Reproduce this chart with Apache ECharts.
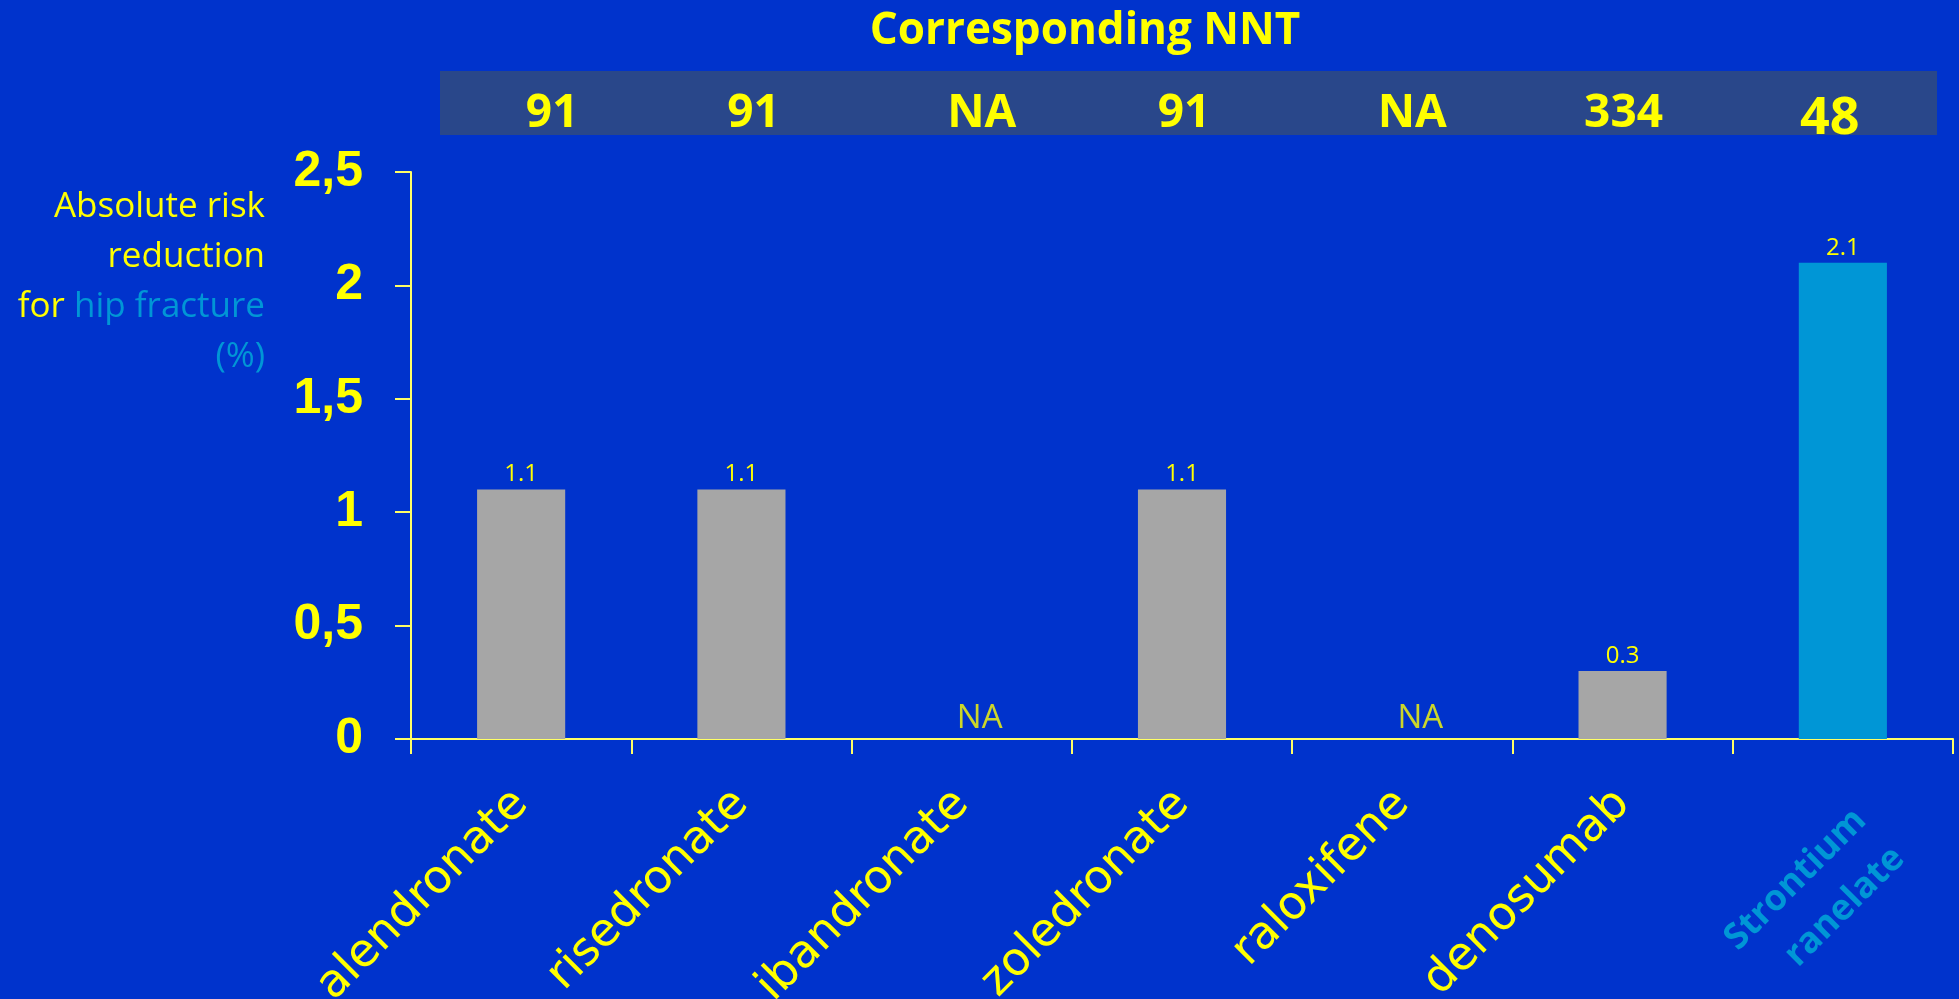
<!DOCTYPE html>
<html>
<head>
<meta charset="utf-8">
<script src="https://cdn.jsdelivr.net/npm/echarts@6/dist/echarts.min.js"></script>
<style>
  html, body { margin: 0; padding: 0; background: #0033CC; }
  #chart { width: 1959px; height: 999px; }
</style>
</head>
<body>
<div id="chart"></div>
<script>
// Drugs along the x axis
const categories = ['alendronate', 'risedronate', 'ibandronate', 'zoledronate', 'raloxifene', 'denosumab', 'Strontium\nranelate'];
// Absolute risk reduction for hip fracture (%); null = not available
const arrValues = [1.1, 1.1, null, 1.1, null, 0.3, 2.1];
// Corresponding number needed to treat
const nntLabels = ['91', '91', 'NA', '91', 'NA', '334', '48'];
// Y axis ticks
const yTickValues = [0, 0.5, 1, 1.5, 2, 2.5];
// Highlighted drug
const highlightName = 'Strontium\nranelate';

// Horizontal nudge (px) of each NNT figure inside the header band
const nntNudge = [62, 24, 40, 4, 20, 2, -26];

const YELLOW = '#FFFF00';
const AXIS = '#FFFF66';
const BLUE_HI = '#0096D6';
const GREY = '#A6A6A6';

const chart = echarts.init(document.getElementById('chart'), null, { renderer: 'canvas' });

const barData = arrValues.map((v, i) => v === null ? null : {
  value: v,
  itemStyle: { color: categories[i] === highlightName ? BLUE_HI : GREY }
});
const naData = arrValues.map((v, i) => v === null ? [i, 0] : null).filter(d => d !== null);

// rich styles for the NNT header, one per figure so each can be nudged
const nntRich = {};
nntLabels.forEach((t, i) => {
  const n = nntNudge[i];
  nntRich['n' + i] = {
    color: YELLOW,
    fontFamily: 'Open Sans',
    fontWeight: 'bold',
    fontSize: i === nntLabels.length - 1 ? 52 : 46,
    padding: [0, n < 0 ? -n : 0, i === nntLabels.length - 1 ? -8 : 0, n > 0 ? n : 0]
  };
});

const option = {
  backgroundColor: '#0033CC',
  animation: false,
  grid: { left: 411, right: 6, top: 172, bottom: 260, containLabel: false, outerBoundsMode: 'none' },
  xAxis: [
    {
      type: 'category',
      data: categories,
      position: 'bottom',
      axisLine: { lineStyle: { color: AXIS, width: 2 } },
      axisTick: { show: true, length: 15, lineStyle: { color: AXIS, width: 2 } },
      axisLabel: {
        interval: 0,
        rotate: 45,
        margin: 58,
        color: YELLOW,
        fontFamily: 'DejaVu Sans',
        fontSize: 46,
        formatter: (v) => {
          if (v !== highlightName) return v;
          // a spacer line above pushes the two-line name further from the axis
          return '{sp| }\n' + v.split('\n').map(s => '{hi|' + s + '}').join('\n');
        },
        rich: {
          sp: { fontSize: 10, lineHeight: 104 },
          hi: {
            color: BLUE_HI, fontFamily: 'Open Sans', fontWeight: 'bold',
            fontSize: 36, lineHeight: 54
          }
        }
      }
    },
    {
      type: 'category',
      data: categories,
      position: 'top',
      axisLine: { show: false },
      axisTick: { show: false },
      axisLabel: {
        interval: 0,
        margin: 35,
        color: YELLOW,
        fontFamily: 'Open Sans',
        fontWeight: 'bold',
        fontSize: 46,
        formatter: (v, i) => '{n' + i + '|' + nntLabels[i] + '}',
        rich: nntRich
      }
    }
  ],
  yAxis: {
    type: 'value',
    min: yTickValues[0],
    max: yTickValues[yTickValues.length - 1],
    interval: 0.5,
    splitLine: { show: false },
    axisLine: { show: true, lineStyle: { color: AXIS, width: 2 } },
    axisTick: { show: true, length: 16, lineStyle: { color: AXIS, width: 2 } },
    axisLabel: {
      margin: 48,
      color: YELLOW,
      fontFamily: 'Liberation Sans',
      fontWeight: 'bold',
      fontSize: 50,
      formatter: (v) => String(v).replace('.', ',')
    }
  },
  series: [
    {
      type: 'bar',
      xAxisIndex: 0,
      data: barData,
      barWidth: '40%',
      label: {
        show: true,
        position: 'top',
        distance: 3,
        color: YELLOW,
        fontFamily: 'Open Sans',
        fontSize: 24,
        formatter: (p) => p.value.toFixed(1)
      }
    },
    {
      type: 'scatter',
      xAxisIndex: 0,
      data: naData,
      symbolSize: 0,
      silent: true,
      label: {
        show: true,
        position: 'top',
        distance: 4,
        offset: [18, 0],
        color: YELLOW,
        fontFamily: 'Open Sans',
        fontSize: 33,
        formatter: 'NA'
      }
    }
  ],
  graphic: [
    {
      type: 'rect',
      z: -1,
      shape: { x: 440, y: 71, width: 1497, height: 64 },
      style: { fill: '#29478A' }
    },
    {
      type: 'text',
      x: 1085, y: 31,
      style: {
        text: 'Corresponding NNT',
        fill: YELLOW,
        font: 'bold 44px "Open Sans"',
        align: 'center',
        verticalAlign: 'middle'
      }
    },
    {
      type: 'text',
      x: 265, y: 182,
      style: {
        text: '{y|Absolute risk}\n{y|reduction}\n{y|for }{b|hip fracture}\n{b|(%)}',
        align: 'right',
        verticalAlign: 'top',
        rich: {
          y: { fill: YELLOW, fontFamily: 'Open Sans', fontSize: 35, lineHeight: 50, align: 'right' },
          b: { fill: BLUE_HI, fontFamily: 'Open Sans', fontSize: 35, lineHeight: 50, align: 'right' }
        }
      }
    }
  ]
};

chart.setOption(option);
</script>
</body>
</html>
